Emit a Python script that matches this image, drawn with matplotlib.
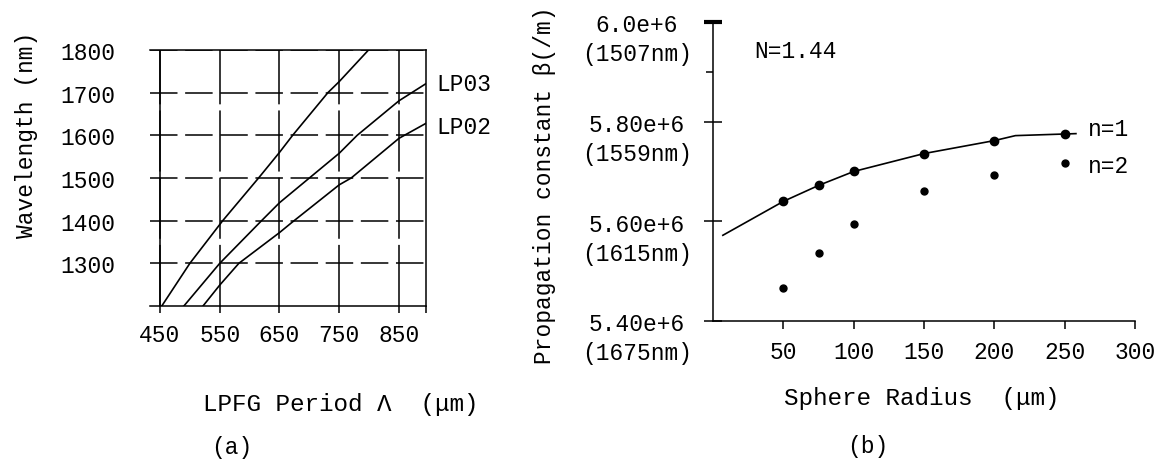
import matplotlib
matplotlib.use("Agg")
import matplotlib.pyplot as plt

plt.rcParams['font.family'] = ['Liberation Mono', 'DejaVu Sans Mono']
plt.rcParams['font.size'] = 16.5

# (a) resonance wavelength vs LPFG period
curve_x = [453, 500, 555, 615, 650, 672, 731, 750, 799]
curve_y = [1200, 1300, 1400, 1500, 1560, 1600, 1700, 1726, 1800]
lp03_x = [490, 550, 620, 650, 700, 750, 780, 850, 895]
lp03_y = [1200, 1300, 1400, 1442, 1500, 1558, 1600, 1681, 1721]
lp02_x = [522, 550, 582, 650, 670, 750, 770, 850, 895]
lp02_y = [1200, 1249, 1300, 1372, 1395, 1484, 1500, 1593, 1628]
period_ticks = [450, 550, 650, 750, 850]
wl_ticks = [1300, 1400, 1500, 1600, 1700, 1800]

# (b) propagation constant vs sphere radius
fit_r = [7, 50, 75, 100, 150, 200, 215, 258]
fit_beta = [5.572e6, 5.640e6, 5.672e6, 5.700e6, 5.736e6, 5.762e6, 5.772e6, 5.776e6]
radius = [50, 75, 100, 150, 200, 250]
beta_n1 = [5.640e6, 5.672e6, 5.700e6, 5.736e6, 5.762e6, 5.776e6]
beta_n2 = [5.466e6, 5.536e6, 5.594e6, 5.660e6, 5.692e6, 5.718e6]
radius_ticks = [50, 100, 150, 200, 250, 300]
beta_ticks = [5.4e6, 5.6e6, 5.8e6, 6.0e6]
beta_labels = ['5.40e+6', '5.60e+6', '5.80e+6', '6.0e+6']
wl_labels = ['(1675nm)', '(1615nm)', '(1559nm)', '(1507nm)']

fig = plt.figure(figsize=(11.6, 4.64), dpi=100)

# ---- panel (a)
ax = fig.add_axes([150 / 1160, 1 - 307 / 464, 276 / 1160, 256 / 464])
ax.plot(curve_x, curve_y, color='black', lw=1.2)
ax.plot(lp03_x, lp03_y, color='black', lw=1.2)
ax.plot(lp02_x, lp02_y, color='black', lw=1.2)
ax.set_xlim(433.3, 895.2)
ax.set_ylim(1200, 1800)
ax.set_xticks(period_ticks)
ax.set_xticks([895.2], minor=True)
ax.set_yticks(wl_ticks)
ax.grid(axis='y', color='black', lw=1.1, linestyle=(0, (18, 5)))
ax.grid(axis='x', color='black', lw=1.1, linestyle=(0, (40, 4)))
ax.axvline(450, color='black', lw=1.1)
ax.spines['left'].set_visible(False)
for s in ['top', 'right', 'bottom']:
    ax.spines[s].set_linewidth(1.1)
ax.tick_params(axis='y', length=0, pad=25)
ax.tick_params(axis='x', which='both', direction='out', length=5, width=1.1, pad=7)
ax.text(1.036, 0.871, 'LP03', transform=ax.transAxes, ha='left', va='center')
ax.text(1.036, 0.703, 'LP02', transform=ax.transAxes, ha='left', va='center')
ax.text(-0.449, 0.672, 'Wavelength (nm)', transform=ax.transAxes,
        rotation=90, ha='center', va='center')
ax.text((341 - 150) / 276, (307 - 405) / 256, 'LPFG Period Λ  (μm)',
        transform=ax.transAxes, ha='center', va='center', fontsize=17.5)
ax.text((232 - 150) / 276, (307 - 448) / 256, '(a)',
        transform=ax.transAxes, ha='center', va='center')

# ---- panel (b)
bx = fig.add_axes([713 / 1160, 1 - 322 / 464, 422 / 1160, 299 / 464])
bx.plot(fit_r, fit_beta, color='black', lw=1.2)
bx.plot(radius, beta_n1, 'o', color='black', ms=6)
bx.plot(radius, beta_n2, 'o', color='black', ms=5)
bx.set_xlim(0, 300)
bx.set_ylim(5.4e6, 6.0e6)
bx.spines['top'].set_visible(False)
bx.spines['right'].set_visible(False)
bx.spines['left'].set_linewidth(1.1)
bx.spines['bottom'].set_linewidth(1.1)
bx.set_xticks(radius_ticks)
bx.set_yticks(beta_ticks)
bx.set_yticks([5.9e6], minor=True)
bx.set_yticklabels([])
bx.tick_params(axis='x', direction='out', length=6, width=1.1, pad=8)
bx.tick_params(axis='y', which='major', direction='inout', length=13, width=1.1)
bx.tick_params(axis='y', which='minor', direction='out', length=5, width=1.1)
cap = bx.yaxis.get_major_ticks(len(beta_ticks))[-1]
cap.tick1line.set_markeredgewidth(3)
for val, top, bottom in zip(beta_ticks, beta_labels, wl_labels):
    bx.annotate(top, xy=(-0.18, val), xycoords=('axes fraction', 'data'),
                xytext=(0, -2), textcoords='offset points',
                ha='center', va='center', annotation_clip=False)
    bx.annotate(bottom, xy=(-0.18, val), xycoords=('axes fraction', 'data'),
                xytext=(0, -23), textcoords='offset points',
                ha='center', va='center', annotation_clip=False)
bx.text((795 - 713) / 422, (322 - 52) / 299, 'N=1.44', transform=bx.transAxes,
        ha='center', va='center')
bx.text((1088 - 713) / 422, (322 - 130) / 299, 'n=1', transform=bx.transAxes,
        ha='left', va='center')
bx.text((1088 - 713) / 422, (322 - 167) / 299, 'n=2', transform=bx.transAxes,
        ha='left', va='center')
bx.text((545 - 713) / 422, (322 - 185) / 299, 'Propagation constant β(/m)',
        transform=bx.transAxes, rotation=90, ha='center', va='center')
bx.text((922 - 713) / 422, (322 - 398) / 299, 'Sphere Radius  (μm)',
        transform=bx.transAxes, ha='center', va='center', fontsize=17.5)
bx.text((868 - 713) / 422, (322 - 447) / 299, '(b)',
        transform=bx.transAxes, ha='center', va='center')

fig.savefig('out.png', dpi=100)
